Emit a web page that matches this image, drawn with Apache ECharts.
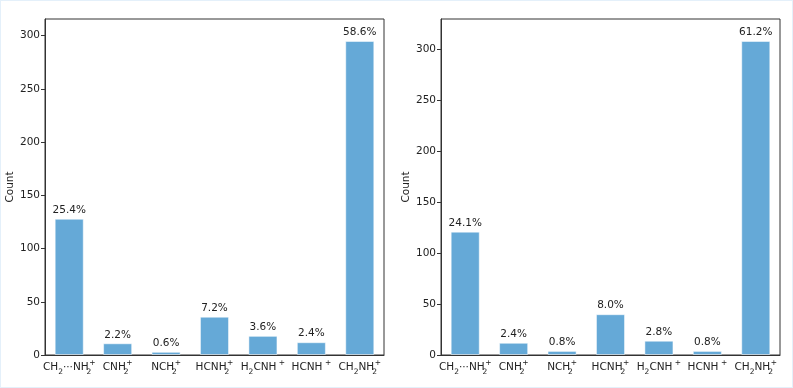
<!DOCTYPE html>
<html>
<head>
<meta charset="utf-8">
<script src="https://cdn.jsdelivr.net/npm/echarts@6/dist/echarts.min.js"></script>
<style>
html,body{margin:0;padding:0;background:#fff;}
#wrap{position:absolute;left:0;top:0;width:791px;height:386px;border:1px solid #e4f0fa;}
#chart{width:791px;height:386px;}
</style>
</head>
<body>
<div id="wrap"><div id="chart"></div></div>
<script>
'use strict';

// 类别（富文本标签，sb=与上标叠放的下标）
var categories=[
    'CH{sub|2}···NH{sb|2}{sup|+}',
    'CNH{sb|2}{sup|+}',
    'NCH{sb|2}{sup|+}',
    'HCNH{sb|2}{sup|+}',
    'H{sub|2}CNH{sup| +}',
    'HCNH{sup| +}',
    'CH{sub|2}NH{sb|2}{sup|+}'
];
var countsLeft=[128,11,3,36,18,12,295];
var countsRight=[121,12,4,40,14,4,308];
var yTicks=[0,50,100,150,200,250,300];

var BAR_COLOR='#65a9d7';
var FONT='DejaVu Sans';
var FS=10.5;

function sum(arr){
    return arr.reduce(function(a,b){return a+b;},0);
}

function richStyles(){
    return {
        sub:{fontFamily:FONT,fontSize:7.5,color:'#222',verticalAlign:'bottom'},
        sb:{fontFamily:FONT,fontSize:7.5,color:'#222',verticalAlign:'bottom',width:0.5},
        sup:{fontFamily:FONT,fontSize:7.5,color:'#222',verticalAlign:'top'}
    };
}

function makeAxes(idx,data){
    var total=sum(data);
    var maxVal=Math.max.apply(null,data)*1.07;
    return {
        xAxis:{
            type:'category',gridIndex:idx,data:categories,
            axisLine:{lineStyle:{color:'#333',width:1}},
            axisTick:{alignWithLabel:true,length:4,lineStyle:{color:'#333'}},
            axisLabel:{
                interval:0,margin:4,fontFamily:FONT,fontSize:FS,color:'#222',lineHeight:17,
                rich:richStyles()
            }
        },
        yAxis:{
            type:'value',gridIndex:idx,min:0,max:maxVal,interval:50,
            name:'Count',nameLocation:'middle',nameGap:29,nameRotate:90,
            nameTextStyle:{fontFamily:FONT,fontSize:FS,color:'#222'},
            axisLine:{show:true,lineStyle:{color:'#333',width:1}},
            axisTick:{show:true,length:4,lineStyle:{color:'#333'},customValues:yTicks},
            splitLine:{show:false},
            axisLabel:{
                fontFamily:FONT,fontSize:FS,color:'#222',margin:5,customValues:yTicks
            }
        },
        series:{
            type:'bar',xAxisIndex:idx,yAxisIndex:idx,data:data,barWidth:'60%',
            itemStyle:{color:BAR_COLOR,borderColor:'rgba(255,255,255,0.5)',borderWidth:1},
            label:{
                show:true,position:'top',distance:3,fontFamily:FONT,fontSize:FS,color:'#222',
                formatter:function(p){return (p.value/total*100).toFixed(1)+'%';}
            },
            animation:false
        }
    };
}

var left=makeAxes(0,countsLeft);
var right=makeAxes(1,countsRight);

var chart=echarts.init(document.getElementById('chart'),null,{renderer:'canvas'});
chart.setOption({
    animation:false,
    backgroundColor:'#fff',
    grid:[
        {left:44,right:408,top:18,bottom:32,show:true,borderColor:'#333',borderWidth:1,backgroundColor:'transparent'},
        {left:440,right:12,top:18,bottom:32,show:true,borderColor:'#333',borderWidth:1,backgroundColor:'transparent'}
    ],
    xAxis:[left.xAxis,right.xAxis],
    yAxis:[left.yAxis,right.yAxis],
    series:[left.series,right.series]
});
</script>
</body>
</html>
